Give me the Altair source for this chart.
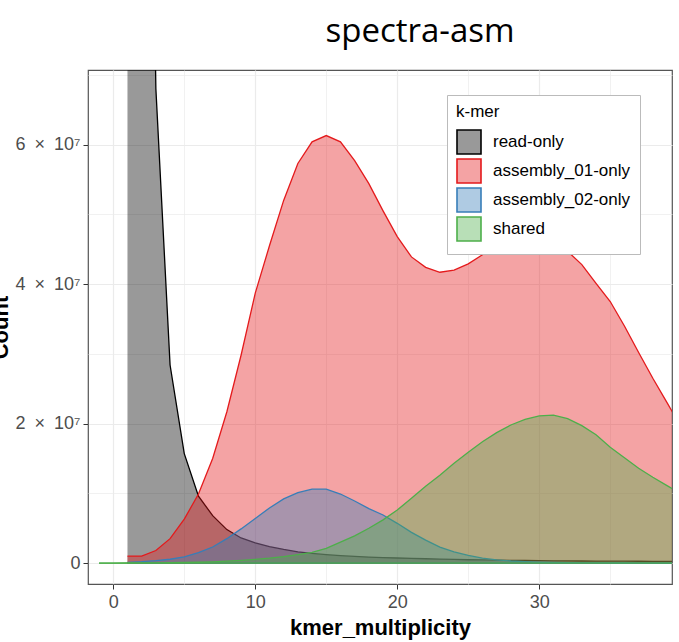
import altair as alt
import pandas as pd

# ---- data ----
series_names = ["read-only", "assembly_01-only", "assembly_02-only", "shared"]

kmer_x = list(range(1, 41))
read_only = [4.0e8, 2.0e8, 6.8e7, 2.84e7, 1.57e7, 9.6e6, 6.8e6, 4.8e6, 3.6e6, 2.9e6,
             2.35e6, 1.95e6, 1.62e6, 1.38e6, 1.2e6, 1.06e6, 0.95e6, 0.86e6, 0.79e6, 0.73e6,
             0.67e6, 0.62e6, 0.57e6, 0.52e6, 0.48e6, 0.45e6, 0.42e6, 0.39e6, 0.37e6, 0.35e6,
             0.33e6, 0.32e6, 0.30e6, 0.29e6, 0.28e6, 0.27e6, 0.26e6, 0.25e6, 0.24e6, 0.23e6]
assembly_01 = [1.0e6, 1.0e6, 1.8e6, 3.5e6, 6.3e6, 9.9e6, 15.0e6, 21.7e6, 29.8e6, 38.7e6,
               45.5e6, 52.0e6, 57.3e6, 60.4e6, 61.3e6, 60.4e6, 57.7e6, 54.4e6, 50.5e6, 46.8e6,
               43.9e6, 42.4e6, 41.7e6, 42.0e6, 42.9e6, 44.2e6, 45.6e6, 46.7e6, 47.3e6, 47.2e6,
               46.3e6, 44.7e6, 42.8e6, 40.1e6, 37.5e6, 34.0e6, 30.2e6, 26.5e6, 23.0e6, 19.5e6]
assembly_02 = [0.1e6, 0.2e6, 0.35e6, 0.55e6, 0.9e6, 1.5e6, 2.3e6, 3.5e6, 4.9e6, 6.4e6,
               7.9e6, 9.2e6, 10.1e6, 10.6e6, 10.6e6, 9.9e6, 8.9e6, 7.8e6, 6.9e6, 5.7e6,
               4.4e6, 3.3e6, 2.3e6, 1.6e6, 1.1e6, 0.7e6, 0.45e6, 0.3e6, 0.2e6, 0.12e6,
               0.08e6, 0.05e6, 0.03e6, 0.02e6, 0.01e6, 0.01e6, 0.0, 0.0, 0.0, 0.0]
shared_x = list(range(-1, 41))
shared = [0.0, 0.0,
          0.01e6, 0.02e6, 0.03e6, 0.05e6, 0.08e6, 0.12e6, 0.18e6, 0.27e6, 0.38e6, 0.52e6,
          0.70e6, 0.93e6, 1.22e6, 1.55e6, 2.1e6, 3.0e6, 3.9e6, 5.0e6, 6.2e6, 7.6e6,
          9.3e6, 11.0e6, 12.6e6, 14.3e6, 15.9e6, 17.4e6, 18.7e6, 19.8e6, 20.6e6, 21.1e6,
          21.2e6, 20.7e6, 19.7e6, 18.4e6, 16.6e6, 15.1e6, 13.6e6, 12.3e6, 11.1e6, 9.9e6]

x_ticks = [0, 5, 10, 15, 20, 25, 30, 35]
y_ticks = [0, 1e7, 2e7, 3e7, 4e7, 5e7, 6e7, 7e7]

line_colors = ["#000000", "#E41A1C", "#377EB8", "#4DAF4A"]
legend_fills = ["#999999", "#F4A3A4", "#AFCBE3", "#B8DFB7"]

frames = []
for name, xs, ys in [("read-only", kmer_x, read_only),
                     ("assembly_01-only", kmer_x, assembly_01),
                     ("assembly_02-only", kmer_x, assembly_02),
                     ("shared", shared_x, shared)]:
    frames.append(pd.DataFrame({"x": xs, "y": ys, "kmer": name}))
df = pd.concat(frames, ignore_index=True)

FONT = "Liberation Sans"

x_axis = alt.Axis(
    values=x_ticks, title="kmer_multiplicity",
    labelExpr="datum.value % 10 === 0 ? datum.label : ''",
    domain=False, grid=True, gridColor="#ebebeb",
    gridWidth=alt.condition("datum.value % 10 === 0", alt.value(1.2), alt.value(0.7)),
    tickOpacity=alt.condition("datum.value % 10 === 0", alt.value(1), alt.value(0)),
    tickColor="#333333", tickSize=5, tickWidth=1,
    labelFont=FONT, labelFontSize=18, labelColor="#4d4d4d", labelPadding=4,
    titleFont=FONT, titleFontSize=22, titleFontWeight="bold", titleColor="#000000",
    titlePadding=6,
)
y_axis = alt.Axis(
    values=y_ticks, title="Count",
    labelExpr="datum.value === 0 ? '0' : (datum.value % 20000000 === 0 ? format(datum.value/1e7, 'd') + '\u2002×\u200210⁷' : '')",
    domain=False, grid=True, gridColor="#ebebeb",
    gridWidth=alt.condition("datum.value % 20000000 === 0", alt.value(1.2), alt.value(0.7)),
    tickOpacity=alt.condition("datum.value % 20000000 === 0", alt.value(1), alt.value(0)),
    tickColor="#333333", tickSize=5, tickWidth=1,
    labelFont=FONT, labelFontSize=18, labelColor="#4d4d4d", labelPadding=3,
    titleFont=FONT, titleFontSize=22, titleFontWeight="bold", titleColor="#000000",
    titleAngle=270, titleBaseline="alphabetic", titleAlign="center", titleX=-81,
)

x_enc = alt.X("x:Q", scale=alt.Scale(domain=[-1.78, 39.35], nice=False, zero=False), axis=x_axis)
y_enc = alt.Y("y:Q", scale=alt.Scale(domain=[-3.0e6, 7.07e7], nice=False, zero=False), axis=y_axis)

base = alt.Chart(df)
layers = []
for name, col in zip(series_names, line_colors):
    sub = base.transform_filter(alt.datum.kmer == name)
    layers.append(sub.mark_area(fillOpacity=0.4, clip=True, color=col).encode(x=x_enc, y=y_enc))
    layers.append(sub.mark_line(clip=True, color=col, strokeWidth=1.3).encode(x=x_enc, y=y_enc))
    layers.append(sub.mark_line(clip=True, color=col, strokeWidth=1.3).encode(x=x_enc, y=alt.datum(0)))

legend_def = alt.Legend(
    orient="none", legendX=359, legendY=25, title="k-mer",
    fillColor="white", strokeColor="#bbbbbb", padding=9, cornerRadius=0,
    symbolType="square", symbolSize=576, symbolStrokeWidth=1.6, symbolOpacity=1,
    labelFont=FONT, labelFontSize=17, labelColor="#000000", labelOffset=11,
    titleFont=FONT, titleFontSize=17, titleFontWeight="normal", titleColor="#000000",
    titlePadding=8, rowPadding=-9,
)
legend_layer = base.transform_filter("false").mark_square(opacity=1).encode(
    fill=alt.Fill("kmer:N", scale=alt.Scale(domain=series_names, range=legend_fills),
                  legend=legend_def),
    stroke=alt.Stroke("kmer:N", scale=alt.Scale(domain=series_names, range=line_colors),
                      legend=legend_def),
)
layers.append(legend_layer)

chart = alt.layer(*layers).properties(
    width=584, height=514,
    autosize=alt.AutoSizeParams(type="none"),
    padding={"left": 88, "top": 70, "right": 7, "bottom": 58},
    background="white",
    title=alt.TitleParams("spectra-asm", font="Open Sans", fontSize=33, fontWeight="normal",
                          color="#000000", anchor="middle", frame="group", dx=40, dy=32,
                          offset=27, baseline="alphabetic"),
).configure_view(
    stroke="#555555", strokeWidth=1.2,
)

chart.save("out.html", embed_options={"renderer": "svg", "actions": False})
